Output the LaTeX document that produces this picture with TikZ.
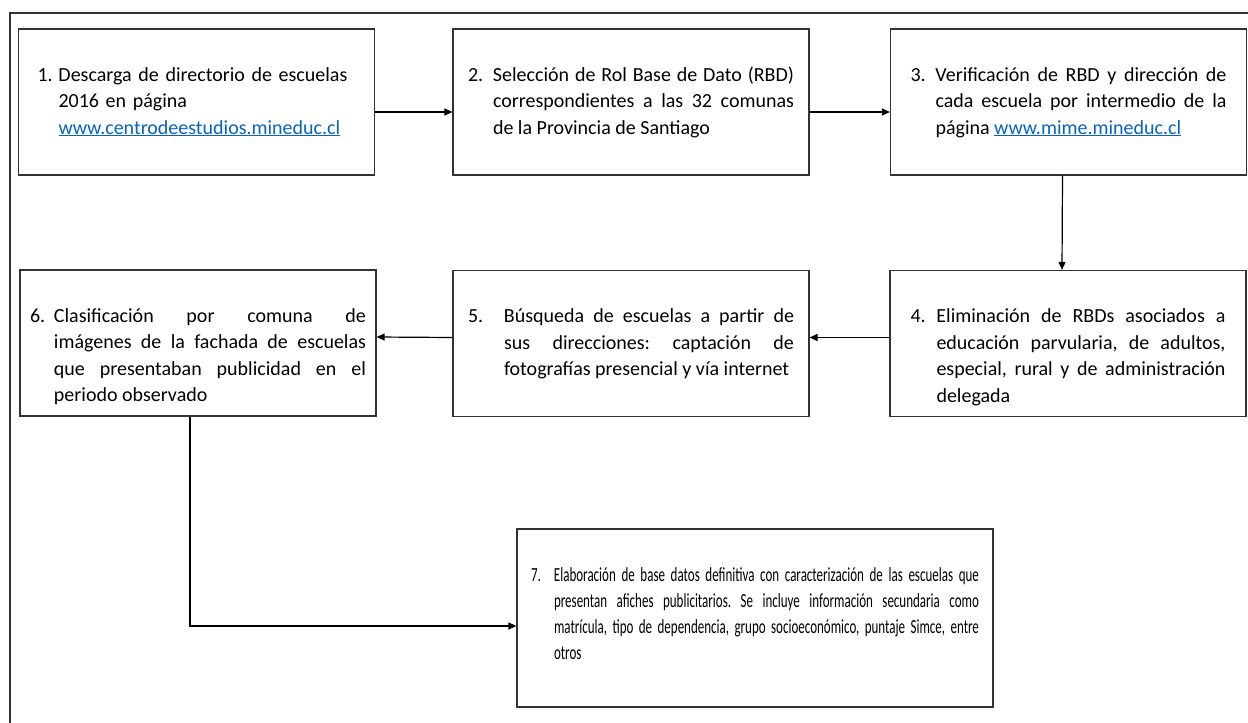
\documentclass[tikz,border=0pt]{standalone}
\usepackage{fontspec}
\setmainfont{Carlito}
\newfontfamily\estrecha[FakeStretch=0.65]{Carlito}
\usetikzlibrary{arrows.meta}
\definecolor{enlace}{RGB}{5,99,193}
\frenchspacing
\newcommand{\numpaso}[3]{\hangindent=#2\hangafter=1\noindent\makebox[#2][l]{#1}#3\par}
\newcommand{\web}[1]{{\color{enlace}\underline{#1}}}

\begin{document}
\begin{tikzpicture}[
    x=1pt, y=-1pt,
    paso/.style={rectangle, draw=black!80, line width=1.2pt, minimum width=356pt, minimum height=146pt, inner sep=0pt, text height=52pt, text depth=94pt, font={\fontsize{20}{26.5}\selectfont\hyphenpenalty=10000\tolerance=10000}, align=justify},
    pasofinal/.style={paso, minimum width=476pt, minimum height=178pt, text depth=126pt, font={\estrecha\fontsize{20}{26}\selectfont\hyphenpenalty=10000\tolerance=10000}},
    flecha/.style={-{Triangle[length=8pt, width=7pt]}, line width=1.2pt, black},
    marco/.style={draw=black!80, line width=1.5pt}
]
\useasboundingbox (0, 0) rectangle (1248, 723);

% Marco exterior
\draw[marco] (10, 723) -- (10, 13) -- (1248, 13);

% Fila superior
\node[paso, text width=318pt, align=left] (paso1) at (196.5, 102) {\numpaso{1.}{21pt}{Descarga de directorio de escuelas\newline 2016 en página\newline \web{www.centrodeestudios.mineduc.cl}}};
\node[paso, text width=326pt] (paso2) at (631, 102) {\numpaso{2.}{25pt}{Selección de Rol Base de Dato (RBD) \linebreak correspondientes a las 32 comunas \linebreak de la Provincia de Santiago}};
\node[paso, text width=316pt] (paso3) at (1068.5, 102) {\numpaso{3.}{25pt}{Verificación de RBD y dirección de \linebreak cada escuela por intermedio de la \linebreak página \web{www.mime.mineduc.cl}}};

% Fila del medio
\node[paso, text width=315pt] (paso4) at (1068, 343.5) {\numpaso{4.}{26pt}{Eliminación de RBDs asociados a \linebreak educación parvularia, de adultos, \linebreak especial, rural y de administración \linebreak delegada}};
\node[paso, text width=326pt] (paso5) at (631, 343.5) {\numpaso{5.}{36pt}{Búsqueda de escuelas a partir de \linebreak sus direcciones: captación de \linebreak fotografías presencial y vía internet}};
\node[paso, text width=336pt] (paso6) at (198, 343) {\numpaso{6.}{24pt}{Clasificación por comuna de \linebreak imágenes de la fachada de escuelas \linebreak que presentaban publicidad en el \linebreak periodo observado}};

% Paso final
\node[pasofinal, text width=448pt] (paso7) at (755, 618) {\numpaso{7.}{23pt}{Elaboración de base datos definitiva con caracterización de las escuelas que \linebreak presentan afiches publicitarios. Se incluye información secundaria como \linebreak matrícula, tipo de dependencia, grupo socioeconómico, puntaje Simce, entre \linebreak otros}};

% Flechas
\draw[flecha] ([yshift=-10pt]paso1.east) -- ([yshift=-10pt]paso2.west);
\draw[flecha] ([yshift=-10pt]paso2.east) -- ([yshift=-10pt]paso3.west);
\draw[flecha] ([xshift=-6pt]paso3.south) -- ([xshift=-6pt]paso4.north);
\draw[flecha] ([yshift=6pt]paso4.west) -- ([yshift=6pt]paso5.east);
\draw[flecha] ([yshift=6pt]paso5.west) -- ([yshift=6pt]paso6.east);
\draw[flecha] ([xshift=-8pt]paso6.south) |- ([yshift=-8pt]paso7.west);

\end{tikzpicture}
\end{document}
